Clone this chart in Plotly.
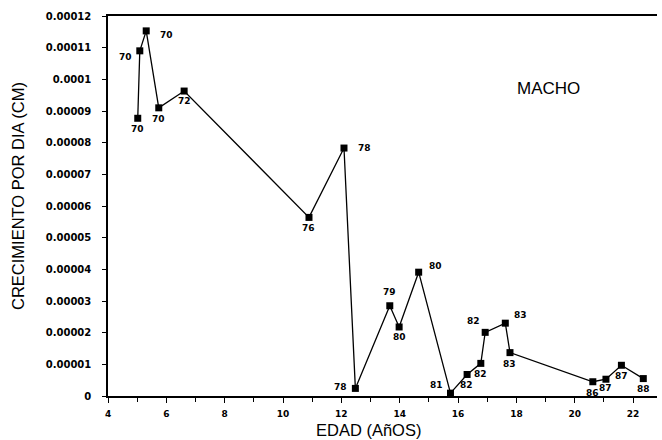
import plotly.graph_objects as go

# Datos
edad = [5.02, 5.09, 5.31, 5.74, 6.61, 10.89, 12.09, 12.48, 13.66, 13.98, 14.65,
        15.74, 16.31, 16.78, 16.93, 17.62, 17.78, 20.62, 21.07, 21.60, 22.35]
crecimiento = [8.77e-5, 10.90e-5, 11.53e-5, 9.10e-5, 9.63e-5, 5.64e-5, 7.83e-5,
               0.24e-5, 2.85e-5, 2.18e-5, 3.91e-5, 0.09e-5, 0.68e-5, 1.03e-5,
               2.01e-5, 2.30e-5, 1.37e-5, 0.45e-5, 0.53e-5, 0.97e-5, 0.55e-5]
etiquetas = ["70", "70", "70", "70", "72", "76", "78", "78", "79", "80", "80",
             "81", "82", "82", "82", "83", "83", "86", "87", "87", "88"]

x_ticks = [4, 6, 8, 10, 12, 14, 16, 18, 20, 22]
y_ticks = [0, 1e-5, 2e-5, 3e-5, 4e-5, 5e-5, 6e-5, 7e-5, 8e-5, 9e-5, 1e-4, 1.1e-4, 1.2e-4]
y_ticktext = ["0", "0.00001", "0.00002", "0.00003", "0.00004", "0.00005", "0.00006",
              "0.00007", "0.00008", "0.00009", "0.0001", "0.00011", "0.00012"]

# label offsets in pixels (style)
label_shift = [(0, -11), (-14, -6), (20, -4), (0, -11), (0, -10), (0, -11), (21, 0),
               (-15, 1), (0, 14), (0, -10), (17, 6), (-14, 8), (-1, -11), (0, -11),
               (-12, 11), (15, 8), (0, -11), (0, -11), (0, -9), (0, -11), (0, -10)]

fig = go.Figure()
fig.add_trace(go.Scatter(
    x=edad, y=crecimiento, mode="lines+markers",
    line=dict(color="black", width=1.3),
    marker=dict(symbol="square", size=7, color="black"),
    showlegend=False, hoverinfo="skip",
))

lab_font = dict(family="DejaVu Sans", size=9, color="black", weight="bold")
annotations = []
for xv, yv, t, (dx, dy) in zip(edad, crecimiento, etiquetas, label_shift):
    annotations.append(dict(x=xv, y=yv, xref="x", yref="y", text=t, showarrow=False,
                            xshift=dx, yshift=dy, font=lab_font))

title_font = dict(family="Liberation Sans", size=16.5, color="black")
annotations.append(dict(text="EDAD (AñOS)", xref="paper", yref="paper", x=0.4736, y=-0.089,
                        showarrow=False, font=title_font, xanchor="center", yanchor="middle"))
annotations.append(dict(text="CRECIMIENTO POR DIA (CM)", xref="paper", yref="paper",
                        x=-0.1648, y=0.525, textangle=-90, showarrow=False, font=title_font,
                        xanchor="center", yanchor="middle"))
annotations.append(dict(text="MACHO", xref="paper", yref="paper", x=0.803, y=0.808,
                        showarrow=False, font=dict(family="Liberation Sans", size=17, color="black"),
                        xanchor="center", yanchor="middle"))

tick_font = dict(family="DejaVu Sans", size=9, color="black", weight="bold")
fig.update_layout(
    width=662, height=440,
    margin=dict(l=108, r=5, t=16, b=44),
    paper_bgcolor="white", plot_bgcolor="white",
    annotations=annotations,
    xaxis=dict(range=[4, 22.82], tickvals=x_ticks, ticks="outside", ticklen=5,
               tickcolor="black", showline=True, linecolor="black", linewidth=1.5,
               mirror=True, showgrid=False, zeroline=False, tickfont=tick_font,
               ticklabelstandoff=3,
               minor=dict(dtick=1, ticks="outside", ticklen=4, tickcolor="black")),
    yaxis=dict(range=[0, 1.2e-4], tickvals=y_ticks, ticktext=y_ticktext, ticks="outside",
               ticklen=4, tickcolor="black", showline=True, linecolor="black", linewidth=1.5,
               showgrid=False, zeroline=False, ticklabelstandoff=9,
               tickfont=dict(family="DejaVu Sans", size=10, color="black", weight="bold")),
)

fig.write_html("out.html")
